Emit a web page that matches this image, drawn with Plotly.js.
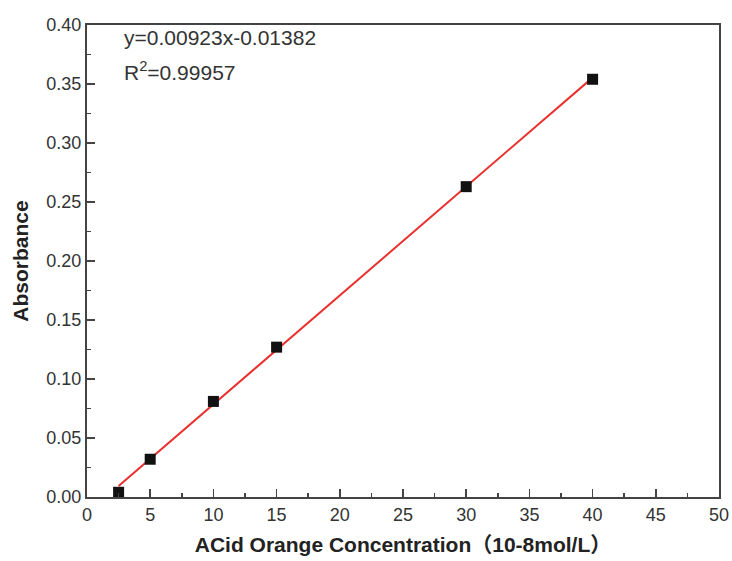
<!DOCTYPE html>
<html><head><meta charset="utf-8">
<script src="https://cdn.plot.ly/plotly-3.0.1.min.js"></script>
<style>html,body{margin:0;padding:0;background:#fff;}#chart{width:732px;height:561px;}</style>
</head><body><div id="chart"></div>
<script>
const concentration = [2.5, 5, 10, 15, 30, 40];
const absorbance = [0.004, 0.032, 0.081, 0.127, 0.263, 0.354];
const fitX = [2.5, 40];
const fitY = [0.0093, 0.3554];
const xTicks = [0, 5, 10, 15, 20, 25, 30, 35, 40, 45, 50];
const yTicks = [0, 0.05, 0.10, 0.15, 0.20, 0.25, 0.30, 0.35, 0.40];
const yTickText = yTicks.map(v => v.toFixed(2));
const eqText = 'y=0.00923x-0.01382';
const r2Text = 'R<sup>2</sup>=0.99957';

const font = 'Liberation Sans, Arial, Noto Sans CJK SC, sans-serif';
const traces = [
  {x: fitX, y: fitY, mode: 'lines', line: {color: '#e8312f', width: 2}, hoverinfo: 'skip'},
  {x: concentration, y: absorbance, mode: 'markers', marker: {symbol: 'square', size: 11, color: '#111'}}
];
const axisCommon = {
  showline: true, linecolor: '#444', linewidth: 2, mirror: true,
  ticks: 'inside', ticklen: 8, tickwidth: 1.5, tickcolor: '#444',
  showgrid: false, zeroline: false,
  tickfont: {family: font, size: 18, color: '#333'}
};
const layout = {
  width: 732, height: 561,
  margin: {l: 87, r: 13, t: 25, b: 64},
  paper_bgcolor: '#fff', plot_bgcolor: '#fff',
  showlegend: false,
  xaxis: Object.assign({}, axisCommon, {
    range: [0, 50], tickvals: xTicks, ticktext: xTicks.map(String),
    minor: {ticks: 'inside', tickvals: [2.5,7.5,12.5,17.5,22.5,27.5,32.5,37.5,42.5,47.5], ticklen: 4, tickwidth: 1.5, tickcolor: '#444'},
    title: {text: 'ACid Orange Concentration（10-8mol/L）', font: {family: font, size: 21, color: '#222', weight: 'bold'}, standoff: 14}
  }),
  yaxis: Object.assign({}, axisCommon, {
    range: [0, 0.40], tickvals: yTicks, ticktext: yTickText,
    minor: {ticks: 'inside', tickvals: [0.025,0.075,0.125,0.175,0.225,0.275,0.325,0.375], ticklen: 4, tickwidth: 1.5, tickcolor: '#444'},
    title: {text: 'Absorbance', font: {family: font, size: 21, color: '#222', weight: 'bold'}, standoff: 12}
  }),
  annotations: [
    {xref: 'paper', yref: 'paper', x: 0.055, y: 0.974, xanchor: 'left', yanchor: 'middle', showarrow: false,
     text: eqText, font: {family: font, size: 21, color: '#333'}},
    {xref: 'paper', yref: 'paper', x: 0.055, y: 0.902, xanchor: 'left', yanchor: 'middle', showarrow: false,
     text: r2Text, font: {family: font, size: 21, color: '#333'}}
  ]
};
Plotly.newPlot('chart', traces, layout, {displayModeBar: false, staticPlot: true});
</script></body></html>
